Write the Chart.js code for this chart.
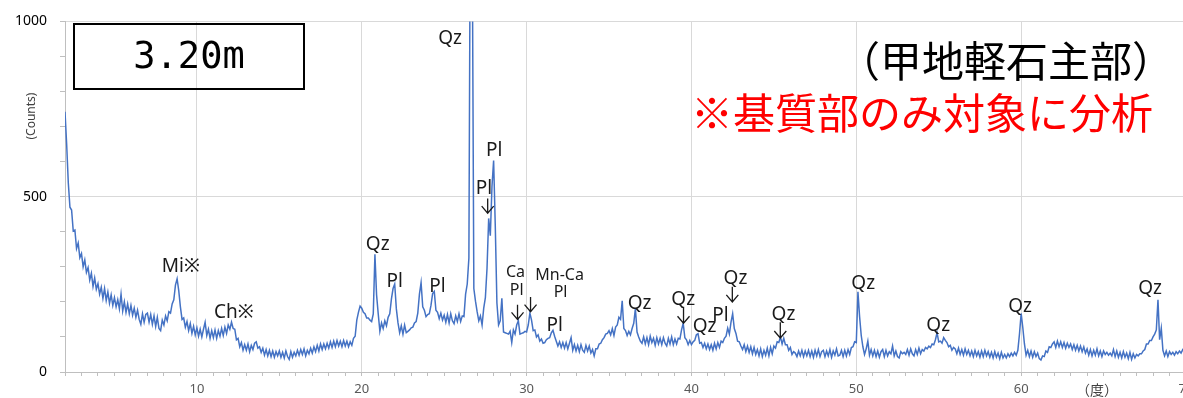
<!DOCTYPE html>
<html>
<head>
<meta charset="utf-8">
<script src="https://cdn.jsdelivr.net/npm/chart.js@4.4.1/dist/chart.umd.min.js"></script>
<style>
  html, body { margin: 0; padding: 0; background: #fff; overflow: hidden; }
  #wrap { width: 1183px; height: 398px; overflow: hidden; }
</style>
</head>
<body>
<div id="wrap"><canvas id="xrd" width="1200" height="398"></canvas></div>
<script>
// scan: 2theta start and step (degrees), counts
var startAngle = 2.0;
var stepAngle = 0.1;
var counts = [
  742, 650, 540, 470, 462, 402, 405, 352, 368, 326,   // 2
  338, 300, 320, 284, 298, 262, 282, 244, 268, 236,   // 3
  252, 222, 242, 210, 238, 204, 228, 196, 220, 190,   // 4
  212, 186, 206, 180, 222, 174, 200, 170, 194, 166,   // 5
  190, 162, 182, 156, 176, 150, 136, 166, 142, 164,   // 6
  168, 142, 164, 136, 160, 130, 156, 124, 118, 148,   // 7
  134, 160, 146, 172, 168, 194, 206, 248, 266, 232,   // 8
  186, 150, 154, 128, 144, 118, 138, 110, 130, 106,   // 9
  126, 102, 122, 100, 122, 142, 104, 122, 96, 118,    // 10
  98, 120, 96, 118, 102, 124, 104, 128, 110, 134,     // 11
  122, 142, 124, 122, 92, 96, 72, 84, 62, 78,         // 12
  62, 80, 58, 76, 64, 82, 86, 68, 72, 56,             // 13
  68, 48, 64, 46, 62, 44, 60, 42, 58, 46,             // 14
  60, 42, 56, 40, 60, 44, 36, 58, 42, 56,             // 15
  46, 62, 48, 64, 50, 66, 46, 62, 52, 68,             // 16
  54, 72, 58, 76, 60, 80, 64, 80, 66, 82,             // 17
  68, 86, 70, 88, 72, 90, 74, 88, 72, 90,             // 18
  74, 88, 72, 86, 76, 96, 102, 148, 170, 188,         // 19
  182, 170, 166, 154, 154, 148, 144, 166, 336, 220,   // 20
  166, 116, 140, 124, 146, 132, 156, 166, 208, 238,   // 21
  251, 180, 140, 112, 132, 108, 134, 112, 116, 120,   // 22
  126, 128, 140, 144, 168, 222, 255, 186, 176, 158,   // 23
  164, 166, 190, 224, 230, 176, 170, 152, 168, 148,   // 24
  162, 142, 164, 140, 166, 146, 138, 160, 144, 166,   // 25
  144, 160, 158, 222, 251, 325, 1500, 1270, 238, 202, // 26
  172, 146, 160, 134, 182, 212, 296, 438, 389, 529,   // 27
  603, 418, 197, 134, 146, 210, 114, 112, 110, 108,   // 28
  116, 84, 120, 108, 134, 146, 108, 110, 112, 116,    // 29
  114, 134, 168, 148, 118, 120, 100, 106, 88, 94,     // 30
  82, 84, 92, 96, 98, 112, 119, 102, 88, 74,          // 31
  86, 70, 84, 68, 84, 66, 82, 98, 62, 78,             // 32
  60, 76, 58, 78, 62, 56, 76, 60, 74, 54,             // 33
  64, 46, 66, 66, 80, 82, 92, 98, 108, 110,           // 34
  118, 106, 124, 104, 128, 134, 156, 150, 203, 124,   // 35
  118, 104, 116, 106, 124, 139, 181, 114, 100, 88,    // 36
  82, 100, 80, 98, 78, 102, 84, 96, 76, 98,           // 37
  80, 96, 78, 98, 82, 74, 96, 80, 100, 78,            // 38
  94, 80, 96, 94, 120, 139, 98, 92, 78, 90,           // 39
  78, 86, 90, 106, 109, 82, 84, 70, 82, 66,           // 40
  80, 64, 78, 62, 82, 66, 84, 70, 88, 84,             // 41
  96, 102, 125, 108, 142, 166, 124, 110, 88, 86,      // 42
  74, 64, 78, 58, 74, 56, 72, 52, 70, 50,             // 43
  64, 46, 66, 44, 62, 48, 68, 46, 70, 52,             // 44
  74, 68, 86, 84, 100, 80, 96, 78, 78, 62,            // 45
  70, 50, 58, 54, 44, 60, 46, 62, 44, 60,             // 46
  46, 62, 44, 60, 42, 62, 46, 64, 44, 58,             // 47
  62, 44, 60, 46, 64, 42, 60, 48, 66, 46,             // 48
  48, 62, 44, 62, 46, 64, 50, 70, 72, 86,             // 49
  84, 229, 158, 104, 72, 50, 66, 88, 48, 64,          // 50
  46, 62, 44, 60, 42, 58, 64, 44, 62, 46,             // 51
  58, 52, 74, 46, 60, 44, 40, 58, 52, 56,             // 52
  50, 64, 48, 66, 52, 46, 64, 50, 68, 52,             // 53
  64, 60, 70, 66, 74, 70, 80, 78, 92, 112,            // 54
  86, 88, 82, 98, 90, 84, 72, 76, 62, 70,             // 55
  66, 52, 68, 50, 64, 48, 66, 50, 62, 46,             // 56
  60, 44, 62, 46, 58, 42, 60, 44, 62, 46,             // 57
  58, 42, 56, 40, 58, 42, 54, 38, 56, 40,             // 58
  50, 40, 52, 44, 54, 46, 56, 48, 62, 109,            // 59
  167, 127, 80, 48, 62, 44, 60, 42, 58, 44,           // 60
  54, 38, 34, 46, 44, 60, 56, 72, 70, 80,             // 61
  86, 70, 88, 72, 86, 70, 84, 68, 82, 70,             // 62
  80, 64, 78, 62, 76, 60, 74, 58, 72, 54,             // 63
  66, 48, 64, 46, 62, 48, 66, 46, 60, 44,             // 64
  60, 50, 56, 48, 54, 46, 64, 44, 60, 42,             // 65
  56, 40, 58, 42, 54, 38, 56, 36, 52, 40,             // 66
  50, 46, 52, 52, 60, 64, 80, 80, 90, 90,             // 67
  100, 108, 120, 206, 92, 125, 62, 46, 60, 44,        // 68
  58, 50, 56, 48, 58, 52, 60, 54, 64, 58,             // 69
  62                                                  // 70
];

// mineral labels (name, 2theta, counts where the label sits)
var peakNames = ["Qz", "Pl", "Pl", "Qz", "Mi※", "Ch※", "Pl", "Pl", "Pl", "Qz", "Qz", "Qz", "Pl", "Qz", "Qz", "Qz", "Qz", "Qz", "Qz"];
var peakAngle = [25.36, 28.03, 27.42, 20.97, 9.03, 12.24, 22.0, 24.6, 31.7, 36.85, 39.5, 40.8, 41.76, 42.67, 45.58, 50.42, 54.97, 59.94, 67.82];
var peakCount = [950, 632, 522, 363, 301, 170, 259, 245, 133, 195, 206, 130, 161, 265, 164, 251, 133, 186, 237];

var minorNames = ["Ca", "Pl", "Mn-Ca", "Pl"];
var minorAngle = [29.33, 29.4, 32.0, 32.06];
var minorCount = [285, 234, 276, 228];

// down arrows pointing at peaks
var arrowAngle = [27.64, 29.45, 30.24, 39.52, 42.48, 45.39];
var arrowTop = [495, 192, 214, 186, 243, 142];
var arrowBottom = [453, 150, 172, 139, 200, 97];

var sampleDepth = "3.20m";
var sampleName = "（甲地軽石主部）";
var sampleNote = "※基質部のみ対象に分析";

var points = counts.map(function (c, i) {
  return { x: +(startAngle + i * stepAngle).toFixed(1), y: c };
});

var annotate = {
  id: "annotate",
  afterDraw: function (chart) {
    var c = chart.ctx;
    var xs = chart.scales.x, ys = chart.scales.y;
    c.save();
    c.textAlign = "center";
    c.textBaseline = "middle";

    // mineral names
    c.fillStyle = "#1a1a1a";
    c.font = '19px "Noto Sans"';
    peakNames.forEach(function (n, i) {
      c.fillText(n, xs.getPixelForValue(peakAngle[i]), ys.getPixelForValue(peakCount[i]));
    });
    c.font = '16px "Noto Sans"';
    minorNames.forEach(function (n, i) {
      c.fillText(n, xs.getPixelForValue(minorAngle[i]), ys.getPixelForValue(minorCount[i]));
    });

    // arrows
    c.strokeStyle = "#1a1a1a";
    c.lineWidth = 1.3;
    arrowAngle.forEach(function (a, i) {
      var x = xs.getPixelForValue(a);
      var y0 = ys.getPixelForValue(arrowTop[i]);
      var y1 = ys.getPixelForValue(arrowBottom[i]);
      c.beginPath();
      c.moveTo(x, y0); c.lineTo(x, y1);
      c.moveTo(x - 6, y1 - 7); c.lineTo(x, y1); c.lineTo(x + 6, y1 - 7);
      c.stroke();
    });

    // axis titles
    c.fillStyle = "#404040";
    c.font = '12px "Noto Sans"';
    c.save();
    c.translate(xs.left - 33, ys.getPixelForValue(730));
    c.rotate(-Math.PI / 2);
    c.fillText("(Counts)", 0, 0);
    c.restore();
    c.font = '14px "Noto Sans CJK JP"';
    c.fillText("（度）", xs.getPixelForValue(64.6), ys.bottom + 18);

    // sample box
    c.strokeStyle = "#000";
    c.lineWidth = 2;
    c.strokeRect(74, 24, 230, 65);
    c.fillStyle = "#000";
    c.font = '37px "DejaVu Sans Mono"';
    c.fillText(sampleDepth, 189, 58);

    c.font = '42px "Noto Sans CJK JP"';
    c.fillText(sampleName, 1006, 61);
    c.fillStyle = "#ff0000";
    c.fillText(sampleNote, 922, 113);
    c.restore();
  }
};

new Chart(document.getElementById("xrd"), {
  type: "line",
  data: {
    datasets: [{
      data: points,
      borderColor: "#4472C4",
      borderWidth: 1.5,
      pointRadius: 0,
      tension: 0
    }]
  },
  options: {
    responsive: false,
    animation: false,
    layout: { padding: { left: 0, right: 14, top: 15, bottom: 0 } },
    plugins: { legend: { display: false }, tooltip: { enabled: false } },
    scales: {
      x: {
        type: "linear",
        min: 2,
        max: 70,
        afterFit: function (s) { s.height = 26; },
        ticks: {
          stepSize: 1,
          autoSkip: false,
          maxRotation: 0,
          padding: 5,
          color: "#595959",
          font: { size: 13, family: "Noto Sans" },
          callback: function (v) { return v % 10 === 0 ? v : ""; }
        },
        grid: {
          color: function (ctx) { return ctx.tick && ctx.tick.value % 10 === 0 ? "#d9d9d9" : "rgba(0,0,0,0)"; },
          tickColor: "#bfbfbf",
          tickLength: 4
        },
        border: { color: "#bfbfbf" }
      },
      y: {
        min: 0,
        max: 1000,
        afterFit: function (s) { s.width = 65; },
        ticks: {
          stepSize: 100,
          padding: 13,
          color: "#000",
          font: { size: 14, family: "Noto Sans" },
          callback: function (v) { return v % 500 === 0 ? v : ""; }
        },
        grid: {
          color: function (ctx) { return ctx.tick && ctx.tick.value % 500 === 0 ? "#d9d9d9" : "rgba(0,0,0,0)"; },
          tickColor: "#bfbfbf",
          tickLength: 5
        },
        border: { color: "#bfbfbf" }
      }
    }
  },
  plugins: [annotate]
});
</script>
</body>
</html>
